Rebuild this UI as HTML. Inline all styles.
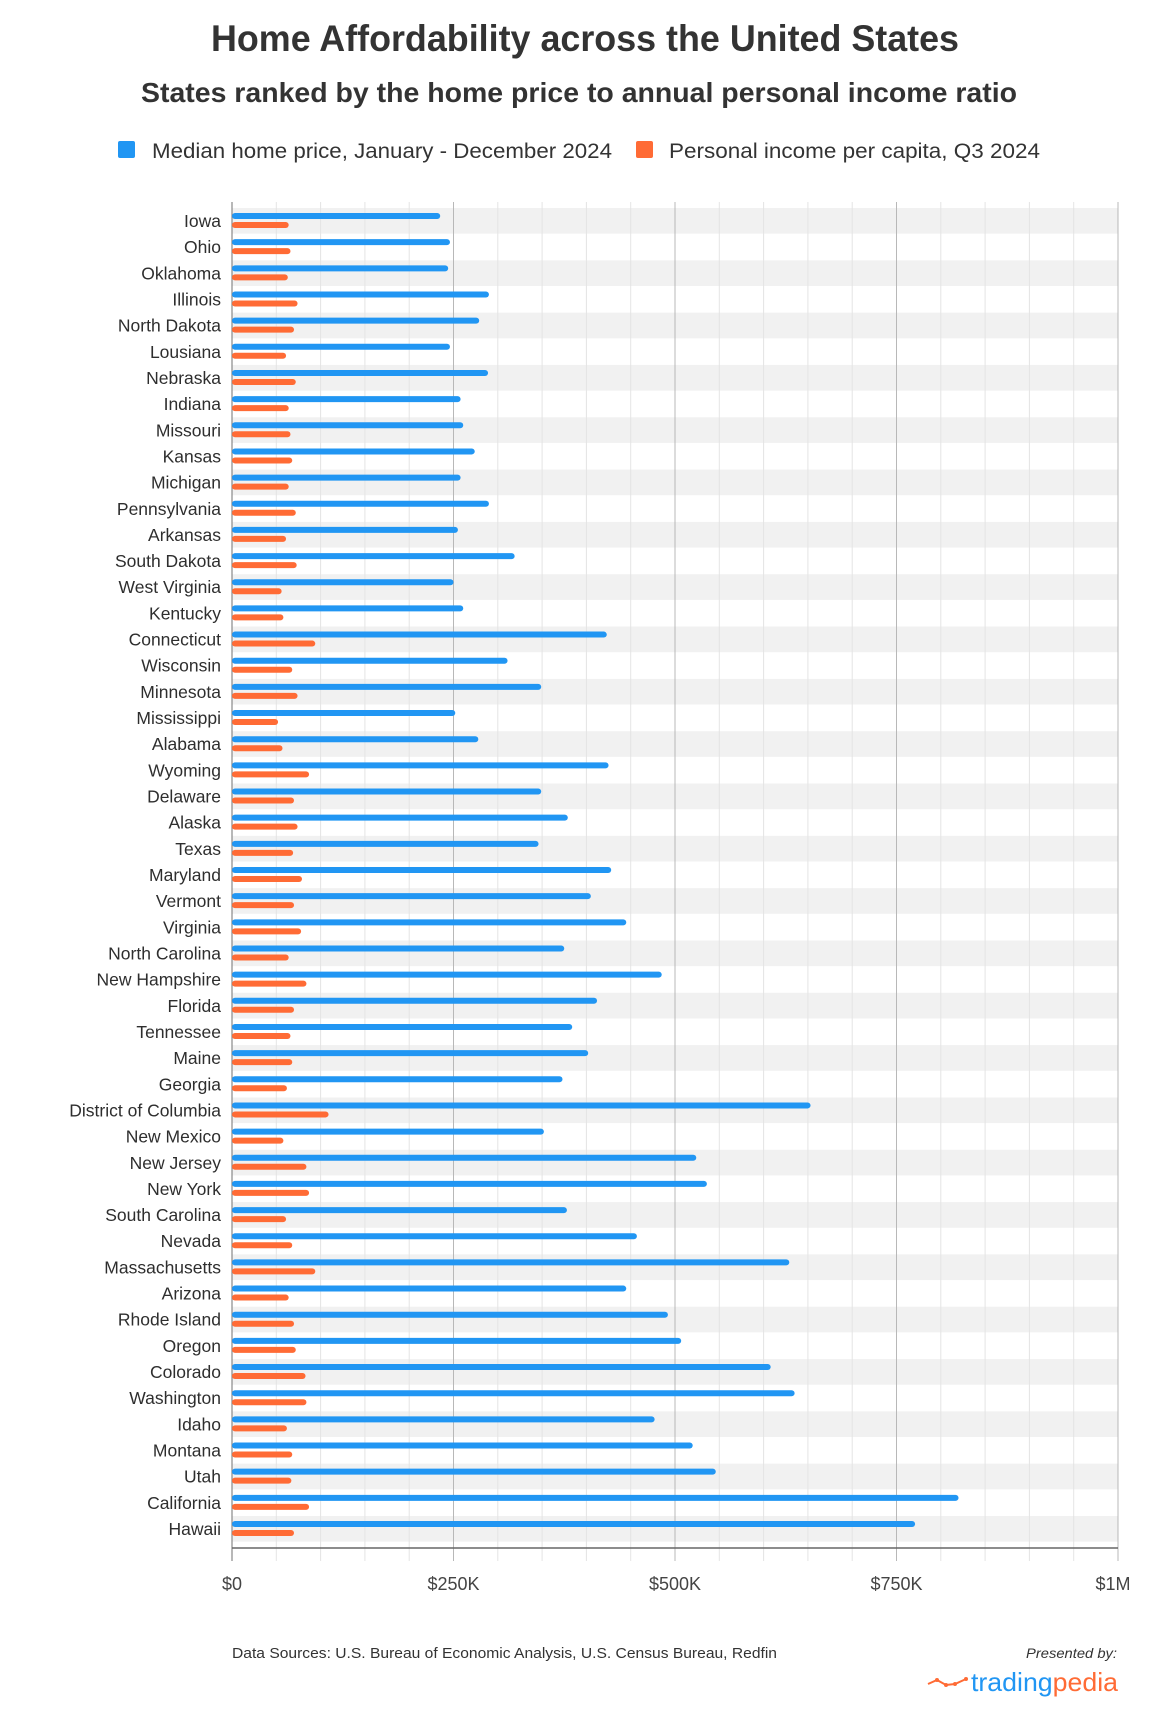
<!DOCTYPE html>
<html><head><meta charset="utf-8"><style>
html,body{margin:0;padding:0;background:#fff;}
svg{display:block;font-family:"Liberation Sans",sans-serif;}
</style></head><body>
<svg id="s" width="1170" height="1718" viewBox="0 0 1170 1718" xmlns="http://www.w3.org/2000/svg">
<text x="585" y="51" text-anchor="middle" font-size="37" font-weight="bold" fill="#333" textLength="748" lengthAdjust="spacingAndGlyphs">Home Affordability across the United States</text>
<text x="579" y="102" text-anchor="middle" font-size="28" font-weight="bold" fill="#333" textLength="876" lengthAdjust="spacingAndGlyphs">States ranked by the home price to annual personal income ratio</text>
<rect x="118" y="141" width="17" height="17" rx="2" fill="#2196f3"/>
<text x="152" y="158" font-size="21" fill="#333" textLength="460" lengthAdjust="spacingAndGlyphs">Median home price, January - December 2024</text>
<rect x="636" y="141" width="17" height="17" rx="2" fill="#ff6b35"/>
<text x="669" y="158" font-size="21" fill="#333" textLength="371" lengthAdjust="spacingAndGlyphs">Personal income per capita, Q3 2024</text>
<g id="bands"></g>
<g id="grid"></g>
<g id="bars"></g>
<g font-size="17.5" fill="#2e2e2e" text-anchor="end" id="labels">
<text x="221" y="227">Iowa</text>
<text x="221" y="253.2">Ohio</text>
<text x="221" y="279.3">Oklahoma</text>
<text x="221" y="305.5">Illinois</text>
<text x="221" y="331.6">North Dakota</text>
<text x="221" y="357.8">Lousiana</text>
<text x="221" y="384">Nebraska</text>
<text x="221" y="410.1">Indiana</text>
<text x="221" y="436.3">Missouri</text>
<text x="221" y="462.4">Kansas</text>
<text x="221" y="488.6">Michigan</text>
<text x="221" y="514.8">Pennsylvania</text>
<text x="221" y="540.9">Arkansas</text>
<text x="221" y="567.1">South Dakota</text>
<text x="221" y="593.2">West Virginia</text>
<text x="221" y="619.4">Kentucky</text>
<text x="221" y="645.6">Connecticut</text>
<text x="221" y="671.7">Wisconsin</text>
<text x="221" y="697.9">Minnesota</text>
<text x="221" y="724">Mississippi</text>
<text x="221" y="750.2">Alabama</text>
<text x="221" y="776.4">Wyoming</text>
<text x="221" y="802.5">Delaware</text>
<text x="221" y="828.7">Alaska</text>
<text x="221" y="854.8">Texas</text>
<text x="221" y="881">Maryland</text>
<text x="221" y="907.2">Vermont</text>
<text x="221" y="933.3">Virginia</text>
<text x="221" y="959.5">North Carolina</text>
<text x="221" y="985.6">New Hampshire</text>
<text x="221" y="1011.8">Florida</text>
<text x="221" y="1038">Tennessee</text>
<text x="221" y="1064.1">Maine</text>
<text x="221" y="1090.3">Georgia</text>
<text x="221" y="1116.4">District of Columbia</text>
<text x="221" y="1142.6">New Mexico</text>
<text x="221" y="1168.8">New Jersey</text>
<text x="221" y="1194.9">New York</text>
<text x="221" y="1221.1">South Carolina</text>
<text x="221" y="1247.2">Nevada</text>
<text x="221" y="1273.4">Massachusetts</text>
<text x="221" y="1299.6">Arizona</text>
<text x="221" y="1325.7">Rhode Island</text>
<text x="221" y="1351.9">Oregon</text>
<text x="221" y="1378">Colorado</text>
<text x="221" y="1404.2">Washington</text>
<text x="221" y="1430.4">Idaho</text>
<text x="221" y="1456.5">Montana</text>
<text x="221" y="1482.7">Utah</text>
<text x="221" y="1508.8">California</text>
<text x="221" y="1535">Hawaii</text>
</g>
<g font-size="18" fill="#444" text-anchor="middle">
<text x="232" y="1590">$0</text>
<text x="453.5" y="1590">$250K</text>
<text x="675" y="1590">$500K</text>
<text x="896.5" y="1590">$750K</text>
<text x="1113" y="1590">$1M</text>
</g>
<text x="232" y="1658" font-size="14.5" fill="#333" textLength="545" lengthAdjust="spacingAndGlyphs">Data Sources: U.S. Bureau of Economic Analysis, U.S. Census Bureau, Redfin</text>
<text x="1117" y="1658" font-size="14" font-style="italic" fill="#333" text-anchor="end" textLength="91" lengthAdjust="spacingAndGlyphs">Presented by:</text>
<polyline points="928,1684 937,1680 946,1685 955,1684 966,1679" fill="none" stroke="#ff6b35" stroke-width="2"/>
<circle cx="937" cy="1680" r="2" fill="#ff6b35"/><circle cx="946" cy="1685" r="2" fill="#ff6b35"/><circle cx="955" cy="1684" r="2" fill="#ff6b35"/><circle cx="966" cy="1679" r="2" fill="#ff6b35"/>
<text x="971" y="1691" font-size="26" textLength="147" lengthAdjust="spacingAndGlyphs"><tspan fill="#2196f3">trading</tspan><tspan fill="#ff6b35">pedia</tspan></text>
</svg>
<script>
var d=[[235,64],[246,66],[244,63],[290,74],[279,70],[246,61],[289,72],[258,64],[261,66],[274,68],[258,64],[290,72],[255,61],[319,73],[250,56],[261,58],[423,94],[311,68],[349,74],[252,52],[278,57],[425,87],[349,70],[379,74],[346,69],[428,79],[405,70],[445,78],[375,64],[485,84],[412,70],[384,66],[402,68],[373,62],[653,109],[352,58],[524,84],[536,87],[378,61],[457,68],[629,94],[445,64],[492,70],[507,72],[608,83],[635,84],[477,62],[520,68],[546,67],[820,87],[771,70]];
var NS="http://www.w3.org/2000/svg";
function el(p,t,a){var e=document.createElementNS(NS,t);for(var k in a)e.setAttribute(k,a[k]);document.getElementById(p).appendChild(e);}
var X0=232,K=0.886,RH=26.16,T0=208;
for(var i=0;i<d.length;i++){var y=T0+RH*i;
 if(i%2==0)el("bands","rect",{x:X0,y:y,width:886,height:RH-0.5,fill:"#f1f1f1"});
 el("bars","rect",{x:X0,y:y+5,width:d[i][0]*K,height:6,rx:3,fill:"#2196f3"});
 el("bars","rect",{x:X0,y:y+14,width:d[i][1]*K,height:6,rx:3,fill:"#ff6b35"});}
for(var v=50;v<=1000;v+=50){var x=X0+v*K;var maj=v%250==0;
 el("grid","line",{x1:x,x2:x,y1:202,y2:1561,stroke:maj?"#b8b8b8":"#e4e4e4","stroke-width":1});}
el("grid","line",{x1:X0,x2:X0,y1:202,y2:1561,stroke:"#888","stroke-width":1.2});
el("bars","line",{x1:X0,x2:1118,y1:1548,y2:1548,stroke:"#666","stroke-width":1.6});
</script>
</body></html>
